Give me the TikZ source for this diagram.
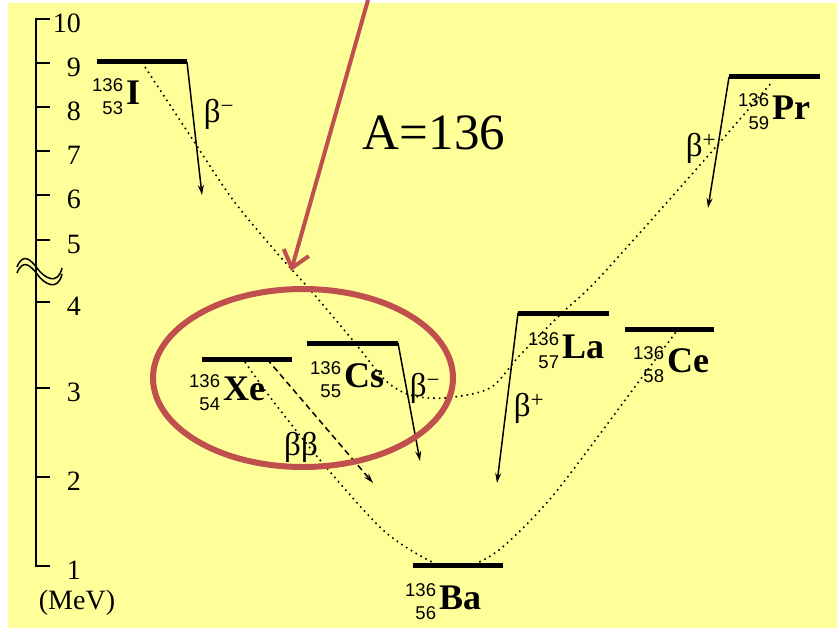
\documentclass[tikz,border=0pt]{standalone}
\usepackage{fontspec}
\setmainfont{Liberation Serif}
\setsansfont{Liberation Sans}
\usetikzlibrary{arrows.meta}

\definecolor{paper}{RGB}{255,255,153}
\definecolor{marker}{RGB}{192,80,77}

% nuclide label: mass and charge stacked, then the symbol
\newcommand{\nuc}[3]{\raisebox{-10pt}{\fontsize{18.5}{23}\selectfont\sffamily\begin{tabular}[b]{@{}r@{}}#1\\#2\end{tabular}}\hspace{3pt}{\fontsize{36}{36}\selectfont\bfseries #3}}
\newcommand{\bet}[1]{{\fontsize{33}{33}\selectfont β\textsuperscript{#1}}}

\begin{document}
\begin{tikzpicture}[x=1pt, y=-1pt, >=Stealth,
  level/.style={line width=5pt},
  decay/.style={line width=1.5pt, -{Stealth[length=10pt,width=6pt]}},
  mass/.style={line width=1.6pt, dash pattern=on 1.6pt off 4pt},
  bb/.style={line width=1.5pt, dash pattern=on 6pt off 4pt, -{Stealth[length=10pt,width=6pt]}},
  axis/.style={line width=1.5pt},
  tick/.style={anchor=east, inner sep=0pt, font=\fontsize{28}{28}\selectfont},
  nuclide/.style={anchor=base west, inner sep=0pt},
  note/.style={draw=marker, line width=4pt}]
  \useasboundingbox (0,0) rectangle (837,631);
  \fill[paper] (8,3) rectangle (837,628);

  % energy axis
  \draw[axis] (50,19) -- (36,19) -- (36,566) -- (50,566);
  \foreach \yy/\lab in {19/10, 63/9, 107/8, 151/7, 195/6, 240/5, 302/4, 388/3, 477/2, 566/1}{
    \draw[axis] (36,\yy) -- (50,\yy);
    \node[tick] (t\lab) at (81,\yy+4) {\lab};
  }
  \draw[axis] (17,267) .. controls (23,252) and (31,260) .. (37,268) .. controls (44,278) and (58,286) .. (62,268);
  \draw[axis] (17,273) .. controls (23,258) and (31,266) .. (37,274) .. controls (44,284) and (58,292) .. (62,274);
  \node[font=\fontsize{28}{28}\selectfont] (unit) at (77,603) {(MeV)};

  \node[font=\fontsize{51}{51}\selectfont] (title) at (434,133) {A=136};

  % mass curves
  \draw[mass] plot[smooth] coordinates {(145,67) (193,140) (233,200) (277,253) (312,292) (355,343) (385,380) (410,395) (445,398) (490,388) (520,355) (562,313) (600,277) (700,165) (772,82)};
  \draw[mass] plot[smooth] coordinates {(245,362) (270,397) (320,460) (383,530) (432,562) (455,566) (477,563) (505,545) (555,493) (640,380) (676,332)};

  % levels
  \coordinate (I-l) at (97,62);   \coordinate (I-r) at (187,62);   \coordinate (I-tip) at (202,195);
  \coordinate (Xe-l) at (202,359); \coordinate (Xe-r) at (292,359); \coordinate (Xe-m) at (267,359);
  \coordinate (Xe-tip) at (373,483);
  \coordinate (Cs-l) at (307,343); \coordinate (Cs-r) at (398,343); \coordinate (Cs-tip) at (420,461);
  \coordinate (Ba-l) at (413,565); \coordinate (Ba-r) at (503,565);
  \coordinate (La-l) at (518,313); \coordinate (La-r) at (609,313); \coordinate (La-tip) at (497,483);
  \coordinate (Ce-l) at (625,329); \coordinate (Ce-r) at (714,329);
  \coordinate (Pr-l) at (729,77);  \coordinate (Pr-r) at (820,77);  \coordinate (Pr-tip) at (708,208);

  \foreach \el in {I, Xe, Cs, Ba, La, Ce, Pr}
    \draw[level] (\el-l) -- (\el-r);

  \draw[decay] (I-r) -- (I-tip);
  \draw[decay] (Cs-r) -- (Cs-tip);
  \draw[decay] (La-l) -- (La-tip);
  \draw[decay] (Pr-l) -- (Pr-tip);
  \draw[bb] (Xe-m) -- (Xe-tip);

  % nuclide names
  \node[nuclide] (nI) at (92,105) {\nuc{136}{53}{I}};
  \node[nuclide] (nXe) at (189,400) {\nuc{136}{54}{Xe}};
  \node[nuclide] (nCs) at (310,387) {\nuc{136}{55}{Cs}};
  \node[nuclide] (nLa) at (528,358) {\nuc{136}{57}{La}};
  \node[nuclide] (nCe) at (633,372) {\nuc{136}{58}{Ce}};
  \node[nuclide] (nPr) at (738,120) {\nuc{136}{59}{Pr}};
  \node[nuclide] (nBa) at (405,609) {\nuc{136}{56}{Ba}};

  % decay modes
  \node (bI) at (219,114) {\bet{−}};
  \node (bCs) at (425,388) {\bet{−}};
  \node (bLa) at (529,408) {\bet{+}};
  \node (bPr) at (701,148) {\bet{+}};
  \node (bXe) at (301,447) {\fontsize{33}{33}\selectfont ββ};

  % highlight
  \coordinate (hint-s) at (368,0);
  \coordinate (hint-e) at (291,271);
  \draw[note, -{Straight Barb[length=16pt,width=26pt]}] (hint-s) -- (hint-e);
  \draw[note, line width=6pt] (303,378) ellipse [x radius=150pt, y radius=89pt];
\end{tikzpicture}
\end{document}
